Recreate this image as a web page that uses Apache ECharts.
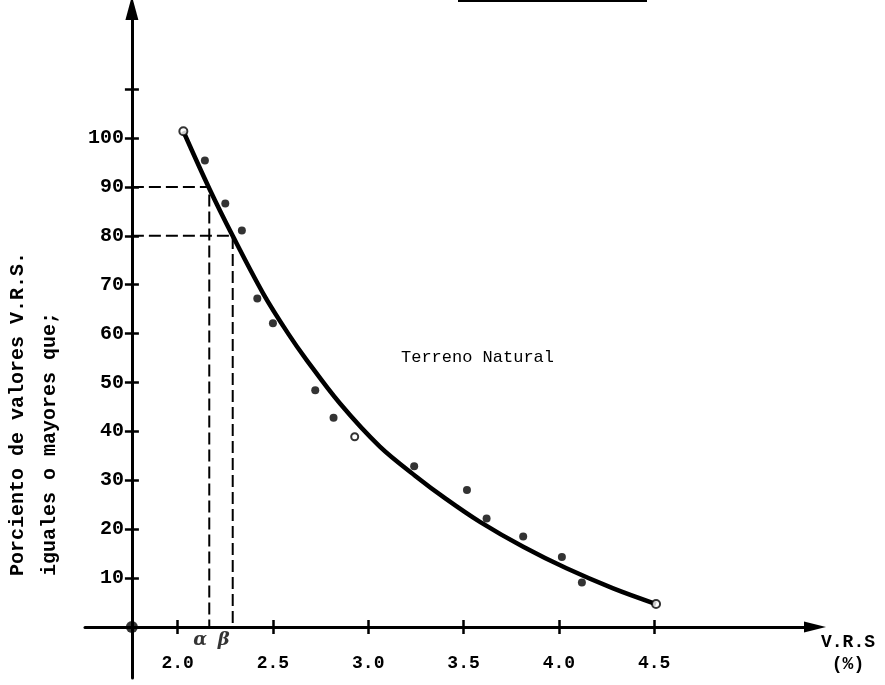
<!DOCTYPE html>
<html><head><meta charset="utf-8">
<script src="https://cdn.jsdelivr.net/npm/echarts@6/dist/echarts.min.js"></script>
<style>html,body{margin:0;padding:0;background:#fff}#c{width:885px;height:685px}</style>
</head><body><div id="c"></div>
<script>
// ---- data ----
const X_TICKS = [2.0, 2.5, 3.0, 3.5, 4.0, 4.5];
const X_TICK_LABELS = ['2.0', '2.5', '3.0', '3.5', '4.0', '4.5'];
const Y_TICKS = [10, 20, 30, 40, 50, 60, 70, 80, 90, 100, 110];
const Y_TICK_LABELS = ['10', '20', '30', '40', '50', '60', '70', '80', '90', '100'];
const ORIGIN = [1.76, 0];
const X_MIN = 1.514, X_MAX = 5.344, Y_MIN = -10.43, Y_MAX = 126.6;

// fitted curve "Terreno Natural"
const CURVE_X = [2.03, 2.166, 2.289, 2.449, 2.58, 2.677, 2.852, 3.061, 3.254, 3.408, 3.586, 3.813, 4.04, 4.285, 4.51];
const CURVE_Y = [101.4, 89.7, 80.0, 68.2, 60.0, 54.6, 45.7, 36.9, 30.7, 26.2, 21.5, 16.4, 12.0, 7.9, 4.7];
// open end points of the curve
const END_X = [2.03, 4.51];
const END_Y = [101.4, 4.7];
// observed points
const DOT_X = [2.143, 2.25, 2.337, 2.418, 2.5, 2.722, 2.818, 3.241, 3.518, 3.621, 3.813, 4.016, 4.121];
const DOT_Y = [95.4, 86.6, 81.1, 67.2, 62.1, 48.4, 42.8, 32.9, 28.0, 22.2, 18.5, 14.3, 9.1];
const RING_X = [2.929];
const RING_Y = [38.9];
// dashed guides (90% and 80%)
const GUIDE_X = [2.166, 2.289];
const GUIDE_Y = [90, 80];
const GUIDE_NAMES = ['α', 'β'];

const zip = (a, b) => a.map((v, i) => [v, b[i]]);
const BLACK = '#000';
const MONO = '"Liberation Mono", "DejaVu Sans Mono", monospace';

const series = [];
series.push({
  type: 'line', data: zip(CURVE_X, CURVE_Y), smooth: 0.35, symbol: 'none',
  lineStyle: { color: BLACK, width: 4.5 }, z: 3
});
GUIDE_X.forEach((gx, i) => {
  series.push({
    type: 'line', symbol: 'none',
    data: [[ORIGIN[0], GUIDE_Y[i]], [gx, GUIDE_Y[i]], [gx, 0]],
    lineStyle: { color: BLACK, width: 2, type: [12, 5] }, z: 2
  });
});
series.push({
  type: 'scatter', data: zip(DOT_X, DOT_Y), symbol: 'circle', symbolSize: 8,
  itemStyle: { color: BLACK }, z: 4
});
series.push({
  type: 'scatter', data: zip(RING_X, RING_Y), symbol: 'circle', symbolSize: 7,
  itemStyle: { color: '#fff', borderColor: BLACK, borderWidth: 2 }, z: 4
});
series.push({
  type: 'scatter', data: zip(END_X, END_Y), symbol: 'circle', symbolSize: 8,
  itemStyle: { color: '#fff', borderColor: BLACK, borderWidth: 2 }, z: 5
});
series.push({
  type: 'scatter', data: [ORIGIN], symbol: 'circle', symbolSize: 12,
  itemStyle: { color: BLACK }, z: 5
});
series.push({
  type: 'scatter', symbolSize: 0,
  data: GUIDE_X.map((gx, i) => ({ value: [gx, 0], name: GUIDE_NAMES[i] })),
  label: {
    show: true, position: 'bottom', distance: 4, offset: [-9, 0],
    formatter: p => p.name, color: BLACK,
    fontFamily: '"DejaVu Serif", serif', fontStyle: 'italic', fontWeight: 'bold', fontSize: 18
  }, z: 5
});

const xBase = {
  type: 'value', min: X_MIN, max: X_MAX, position: 'bottom',
  splitLine: { show: false }
};
const yBase = {
  type: 'value', min: Y_MIN, max: Y_MAX, position: 'left', offset: -46.9,
  splitLine: { show: false }
};

const option = {
  animation: false,
  backgroundColor: '#fff',
  grid: { left: 85, top: 8, width: 730, height: 670, outerBoundsMode: 'none', containLabel: false },
  xAxis: [
    Object.assign({}, xBase, {
      name: 'V.R.S\n(%)', nameLocation: 'end', nameGap: 33,
      nameTextStyle: { color: BLACK, fontFamily: MONO, fontWeight: 'bold', fontSize: 18,
        align: 'center', verticalAlign: 'top', lineHeight: 22, padding: [4, 0, 0, 0] },
      axisLine: { show: true, onZero: true, onZeroAxisIndex: 0, symbol: ['none', 'triangle'],
        symbolSize: [11, 22], lineStyle: { color: BLACK, width: 3 } },
      axisTick: { show: true, inside: false, length: 7, customValues: X_TICKS,
        lineStyle: { color: BLACK, width: 2.5 } },
      axisLabel: { show: false }
    }),
    Object.assign({}, xBase, {
      axisLine: { show: false, onZero: true, onZeroAxisIndex: 0 },
      axisTick: { show: true, inside: true, length: 7, customValues: X_TICKS,
        lineStyle: { color: BLACK, width: 2.5 } },
      axisLabel: { show: false }
    }),
    // tick labels, laid out from the bottom edge of the grid
    Object.assign({}, xBase, {
      axisLine: { show: false, onZero: false },
      axisTick: { show: false },
      axisLabel: { show: true, inside: true, customValues: X_TICKS, margin: 6,
        formatter: v => X_TICK_LABELS[X_TICKS.findIndex(t => Math.abs(t - v) < 1e-6)] || '',
        color: BLACK, fontFamily: MONO, fontWeight: 'bold', fontSize: 18 }
    })
  ],
  yAxis: [
    Object.assign({}, yBase, {
      axisLine: { show: true, onZero: false, symbol: ['none', 'triangle'], symbolSize: [13, 24],
        lineStyle: { color: BLACK, width: 3 } },
      axisTick: { show: true, inside: false, length: 7, customValues: Y_TICKS,
        lineStyle: { color: BLACK, width: 2.5 } },
      axisLabel: { show: true, customValues: Y_TICKS.slice(0, Y_TICK_LABELS.length), margin: 8,
        formatter: v => Y_TICK_LABELS[Y_TICKS.indexOf(Math.round(v))] || '',
        color: BLACK, fontFamily: MONO, fontWeight: 'bold', fontSize: 20 }
    }),
    Object.assign({}, yBase, {
      axisLine: { show: false, onZero: false },
      axisTick: { show: true, inside: true, length: 7, customValues: Y_TICKS,
        lineStyle: { color: BLACK, width: 2.5 } },
      axisLabel: { show: false }
    })
  ],
  series: series,
  graphic: [
    { type: 'rect', shape: { x: 458, y: 0, width: 189, height: 2 }, style: { fill: BLACK }, silent: true },
    { type: 'text', x: 401, y: 357,
      style: { text: 'Terreno Natural', fill: BLACK, font: '17px ' + MONO,
        textAlign: 'left', textVerticalAlign: 'middle' } },
    { type: 'text', x: 34, y: 576, rotation: Math.PI / 2,
      style: { text: 'Porciento de valores V.R.S.\niguales o mayores que;', fill: BLACK,
        font: 'bold 20px ' + MONO, lineHeight: 32, textAlign: 'left', textVerticalAlign: 'middle' } }
  ]
};

const chart = echarts.init(document.getElementById('c'), null, { renderer: 'canvas' });
chart.setOption(option);
</script>
</body></html>
